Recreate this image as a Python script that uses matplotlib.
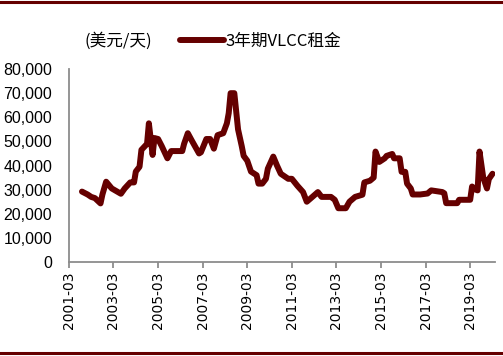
import matplotlib
matplotlib.use("Agg")
import matplotlib.pyplot as plt
import matplotlib.dates as mdates
from matplotlib.lines import Line2D
from matplotlib.ticker import FuncFormatter
import pandas as pd

plt.rcParams["font.family"] = ["Liberation Sans", "Noto Sans CJK SC", "DejaVu Sans"]

DARK_RED = "#650000"

# 3-year VLCC time charter rate, USD/day
months = [
    "2001-10", "2002-01", "2002-03", "2002-05", "2002-08", "2002-09", "2002-11",
    "2003-02", "2003-07", "2003-09", "2003-12", "2004-02", "2004-03", "2004-05",
    "2004-06", "2004-09", "2004-10", "2004-12", "2005-01", "2005-03", "2005-05",
    "2005-08", "2005-10", "2006-04", "2006-05", "2006-07", "2006-09", "2007-01",
    "2007-02", "2007-05", "2007-07", "2007-09", "2007-11", "2008-02", "2008-04",
    "2008-05", "2008-06", "2008-08", "2008-10", "2008-12", "2009-01", "2009-03",
    "2009-05", "2009-08", "2009-09", "2009-11", "2010-01", "2010-02", "2010-05",
    "2010-07", "2010-09", "2011-01", "2011-03", "2011-06", "2011-09", "2011-11",
    "2012-02", "2012-05", "2012-07", "2012-12", "2013-02", "2013-04", "2013-08",
    "2013-10", "2014-01", "2014-05", "2014-06", "2014-09", "2014-11", "2014-12",
    "2015-02", "2015-05", "2015-06", "2015-09", "2015-10", "2016-01", "2016-02",
    "2016-04", "2016-05", "2016-07", "2016-08", "2016-12", "2017-04", "2017-06",
    "2017-12", "2018-01", "2018-02", "2018-08", "2018-09", "2019-03", "2019-04",
    "2019-06", "2019-07", "2019-08", "2019-10", "2019-12", "2020-01", "2020-03",
]
rates = [
    29200, 28000, 27000, 26500, 24300, 28000, 33300,
    30500, 28300, 30500, 33000, 33000, 37500, 39500,
    46500, 49000, 57500, 44400, 51400, 51000, 48000,
    43000, 46000, 46000, 49000, 53400, 50500, 45000,
    45500, 51000, 51000, 47000, 52600, 53400, 57500,
    61700, 70000, 70000, 55000, 48000, 44000, 42000,
    37500, 36000, 32500, 32500, 34500, 38700, 43700,
    40000, 36600, 34500, 34500, 31600, 29000, 25000,
    27000, 29000, 27000, 27000, 25800, 22300, 22300,
    25000, 27000, 27900, 33000, 33700, 35000, 45800,
    41500, 43000, 44000, 44800, 43000, 43000, 37400,
    37400, 32500, 30500, 28000, 28000, 28400, 29700,
    29000, 28500, 24400, 24400, 25800, 25800, 31300,
    30000, 29700, 45800, 35000, 30500, 34400, 36600,
]

dates = pd.to_datetime(months, format="%Y-%m")

fig = plt.figure(figsize=(5.03, 3.56), dpi=100)
ax = fig.add_axes([0.137, 0.264, 0.847, 0.542])

ax.plot(dates, rates, color=DARK_RED, linewidth=4.3, solid_capstyle="round",
        solid_joinstyle="round", label="3年期VLCC租金")

ax.set_ylim(0, 80000)
ax.set_yticks(range(0, 80001, 10000))
ax.yaxis.set_major_formatter(FuncFormatter(lambda v, _: f"{v:,.0f}"))
ax.set_xlim(pd.Timestamp("2001-03-01"), pd.Timestamp("2020-04-10"))
ax.set_xticks(pd.date_range("2001-03-01", "2019-03-01", freq="24MS"))
ax.xaxis.set_major_formatter(mdates.DateFormatter("%Y-%m"))

for side in ("top", "right"):
    ax.spines[side].set_visible(False)
for side in ("left", "bottom"):
    ax.spines[side].set_color("#8c8c8c")
    ax.spines[side].set_linewidth(1.3)

ax.tick_params(axis="y", length=0, pad=12, labelsize=11.5)
ax.tick_params(axis="x", length=4, width=1.3, color="#8c8c8c", pad=3,
               labelsize=10, labelrotation=90)
for lbl in ax.get_xticklabels():
    lbl.set_family("DejaVu Sans")

fig.text(0.167, 0.885, "(美元/天)", fontsize=12,
         family=["Noto Sans CJK SC", "DejaVu Sans"], va="center", ha="left")
leg = fig.legend(loc="center left", bbox_to_anchor=(0.345, 0.885), frameon=False,
                 handlelength=2.6, handletextpad=0.12, borderaxespad=0,
                 prop={"family": ["Noto Sans CJK SC", "DejaVu Sans"], "size": 12})

# maroon rules at the top and bottom of the panel
fig.add_artist(Line2D([0, 1], [0.993, 0.993], color=DARK_RED, linewidth=2.2))
fig.add_artist(Line2D([0, 1], [0.009, 0.009], color=DARK_RED, linewidth=2.2))

fig.savefig("out.png", dpi=100)
